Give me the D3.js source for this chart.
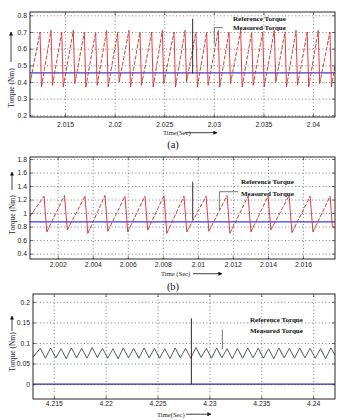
<!DOCTYPE html>
<html>
<head>
<meta charset="utf-8">
<script src="https://cdn.jsdelivr.net/npm/d3@7"></script>
<style>
body { margin: 0; background: #fff; }
svg { display: block; }
.tick text { font-family: "Liberation Sans", Arial, sans-serif; font-size: 6.8px; fill: #222; }
.tick line { stroke: #222; stroke-width: 0.6; }
.domain { display: none; }
.grid line { stroke: #444; stroke-width: 0.7; stroke-dasharray: 1, 2.4; }
.leg { font-family: "Liberation Serif", "Times New Roman", serif; font-size: 7px; font-weight: bold; fill: #111; }
.ylab { font-family: "Liberation Serif", "Times New Roman", serif; font-size: 7.5px; fill: #222; }
.xlab { font-family: "Liberation Serif", "Times New Roman", serif; font-size: 6.6px; fill: #222; }
.cap { font-family: "Liberation Serif", "Times New Roman", serif; font-size: 10.5px; fill: #111; }
</style>
</head>
<body>
<div id="chart"></div>
<script>
// ---- panel (a) ----
var aTime = [2.01147,
  2.01248, 2.01263, 2.01359, 2.01374, 2.01467, 2.01482, 2.01584, 2.01599, 2.01695, 2.01710,
  2.01809, 2.01824, 2.01920, 2.01935, 2.02031, 2.02046, 2.02145, 2.02160, 2.02256, 2.02271,
  2.02374, 2.02389, 2.02481, 2.02496, 2.02599, 2.02614, 2.02710, 2.02725, 2.02820, 2.02835,
  2.02928, 2.02943, 2.03045, 2.03060, 2.03153, 2.03168, 2.03271, 2.03286, 2.03382, 2.03397,
  2.03493, 2.03508, 2.03610, 2.03625, 2.03718, 2.03733, 2.03829, 2.03844, 2.03942, 2.03957,
  2.04053, 2.04068, 2.04171, 2.04186, 2.04222];
var aTorque = [0.39,
  0.70, 0.37, 0.71, 0.38, 0.70, 0.37, 0.71, 0.39, 0.70, 0.37,
  0.70, 0.38, 0.71, 0.37, 0.70, 0.40, 0.71, 0.37, 0.70, 0.38,
  0.70, 0.37, 0.71, 0.39, 0.70, 0.37, 0.71, 0.40, 0.70, 0.37,
  0.70, 0.38, 0.71, 0.37, 0.70, 0.39, 0.71, 0.37, 0.70, 0.38,
  0.70, 0.37, 0.71, 0.40, 0.70, 0.37, 0.71, 0.38, 0.70, 0.37,
  0.71, 0.39, 0.70, 0.37, 0.50];
var aReference = 0.455;
var aTicksX = [2.015, 2.02, 2.025, 2.03, 2.035, 2.04];
var aTicksY = [0.2, 0.3, 0.4, 0.5, 0.6, 0.7, 0.8];
var aDomainX = [2.01147, 2.04222];
var aDomainY = [0.19, 0.82];
// annotation lines: [time, torque from, torque to, (time end of elbow)]
var aRefMark = [2.02787, 0.78, 0.451];
var aMeasMark = [2.03005, 0.726, 0.63, 2.0309];

// ---- panel (b) ----
var bTime = [2.00042,
  2.00122, 2.00138, 2.00239, 2.00255, 2.00356, 2.00372, 2.00470, 2.00486, 2.00584, 2.00600,
  2.00698, 2.00714, 2.00807, 2.00823, 2.00921, 2.00937, 2.01047, 2.01063, 2.01167, 2.01183,
  2.01287, 2.01303, 2.01401, 2.01417, 2.01521, 2.01537, 2.01641, 2.01657, 2.01755, 2.01768,
  2.01783];
var bTorque = [0.95,
  1.25, 0.72, 1.26, 0.75, 1.25, 0.70, 1.26, 0.73, 1.25, 0.72,
  1.25, 0.75, 1.26, 0.70, 1.25, 0.72, 1.25, 0.73, 1.26, 0.70,
  1.25, 0.72, 1.25, 0.75, 1.26, 0.71, 1.25, 0.72, 1.25, 0.80,
  0.78];
var bReference = 0.87;
var bTicksX = [2.002, 2.004, 2.006, 2.008, 2.01, 2.012, 2.014, 2.016];
var bTicksY = [0.4, 0.6, 0.8, 1, 1.2, 1.4, 1.6, 1.8];
var bDomainX = [2.00042, 2.01783];
var bDomainY = [0.32, 1.83];
var bRefMark = [2.00971, 1.463, 0.9];
var bMeasMark = [2.01123, 1.316, 1.047, 2.0123];

// ---- panel (c) ----
var cTime = [4.2130,
  4.2137, 4.2142, 4.2147, 4.2152, 4.2157, 4.2162, 4.2167, 4.2172, 4.2177, 4.2182,
  4.2187, 4.2192, 4.2197, 4.2202, 4.2207, 4.2212, 4.2217, 4.2222, 4.2227, 4.2232,
  4.2237, 4.2242, 4.2247, 4.2252, 4.2257, 4.2262, 4.2267, 4.2272, 4.2277, 4.2282,
  4.2287, 4.2292, 4.2297, 4.2302, 4.2307, 4.2312, 4.2317, 4.2322, 4.2327, 4.2332,
  4.2337, 4.2342, 4.2347, 4.2352, 4.2357, 4.2362, 4.2367, 4.2372, 4.2377, 4.2382,
  4.2387, 4.2392, 4.2397, 4.2402, 4.2407, 4.2412, 4.2417,
  4.2421];
var cTorque = [0.066,
  0.087, 0.063, 0.088, 0.064, 0.086, 0.062, 0.088, 0.064, 0.087, 0.063,
  0.089, 0.065, 0.087, 0.063, 0.086, 0.062, 0.088, 0.064, 0.087, 0.063,
  0.088, 0.064, 0.087, 0.063, 0.086, 0.062, 0.088, 0.064, 0.087, 0.063,
  0.089, 0.065, 0.087, 0.063, 0.088, 0.064, 0.086, 0.062, 0.087, 0.063,
  0.088, 0.064, 0.087, 0.063, 0.086, 0.062, 0.088, 0.064, 0.087, 0.063,
  0.088, 0.064, 0.087, 0.063, 0.086, 0.062, 0.088,
  0.070];
var cReference = 0;
var cTicksX = [4.215, 4.22, 4.225, 4.23, 4.235, 4.24];
var cTicksY = [0, 0.05, 0.1, 0.15, 0.2];
var cDomainX = [4.2130, 4.2421];
var cDomainY = [-0.036, 0.219];
var cRefMark = [4.22826, 0.16, 0];
var cMeasMark = [4.23125, 0.132, 0.085];

var legendLabels = ["Reference Torque", "Measured Torque"];
var yTitle = "Torque (Nm)";
var xTitles = ["Time(Sec)", "Time (Sec)", "Time(Sec)"];
var captions = ["(a)", "(b)"];

var W = 339, H = 420;
var svg = d3.select("#chart").append("svg").attr("width", W).attr("height", H);

var defs = svg.append("defs");
defs.append("marker").attr("id", "arr")
    .attr("viewBox", "0 0 10 10").attr("refX", 9).attr("refY", 5)
    .attr("markerWidth", 5).attr("markerHeight", 5).attr("orient", "auto")
    .append("path").attr("d", "M0,0L10,5L0,10z").attr("fill", "#111");

var fmt = function(d) { return String(d); };

var panels = [
  { id: "a", box: [30, 335, 12, 117], dx: aDomainX, dy: aDomainY, tx: aTicksX, ty: aTicksY,
    time: aTime, val: aTorque, ref: aReference, refMark: aRefMark, measMark: aMeasMark,
    kind: "red", refColor: "#3b3be0", leg: [233, 19, 28], yl: [11, 88, 62, 32],
    pad: 5, xl: [163, 135, 185, 217], xt: xTitles[0] },
  { id: "b", box: [30, 335, 157, 259], dx: bDomainX, dy: bDomainY, tx: bTicksX, ty: bTicksY,
    time: bTime, val: bTorque, ref: bReference, refMark: bRefMark, measMark: bMeasMark,
    kind: "red", refColor: "#3b3be0", leg: [241, 182, 194], yl: [12, 215, 190, 172],
    pad: 3, xl: [161, 276, 193, 222], xt: xTitles[1] },
  { id: "c", box: [33, 335, 294, 399], dx: cDomainX, dy: cDomainY, tx: cTicksX, ty: cTicksY,
    time: cTime, val: cTorque, ref: cReference, refMark: cRefMark, measMark: cMeasMark,
    kind: "dark", refColor: "#2d2da8", leg: [250, 320, 331], yl: [12, 352, 331, 316],
    pad: 2.5, xl: [157, 416.5, 186, 211], xt: xTitles[2] }
];

panels.forEach(function(p) {
  var x0 = p.box[0], x1 = p.box[1], y0 = p.box[2], y1 = p.box[3];
  var x = d3.scaleLinear().domain(p.dx).range([x0, x1]);
  var y = d3.scaleLinear().domain(p.dy).range([y1, y0]);
  var g = svg.append("g");

  defs.append("clipPath").attr("id", "clip" + p.id)
      .append("rect").attr("x", x0).attr("y", y0).attr("width", x1 - x0).attr("height", y1 - y0);

  // dotted grid
  g.append("g").attr("class", "grid")
    .attr("transform", "translate(0," + y1 + ")")
    .call(d3.axisBottom(x).tickValues(p.tx).tickSize(-(y1 - y0)).tickFormat(""));
  g.append("g").attr("class", "grid")
    .attr("transform", "translate(" + x0 + ",0)")
    .call(d3.axisLeft(y).tickValues(p.ty).tickSize(-(x1 - x0)).tickFormat(""));

  // axes with inward ticks
  g.append("g").attr("transform", "translate(0," + y1 + ")")
    .call(d3.axisBottom(x).tickValues(p.tx).tickFormat(fmt)
      .tickSizeInner(-3).tickSizeOuter(0).tickPadding(p.pad));
  g.append("g").attr("transform", "translate(0," + y0 + ")")
    .call(d3.axisTop(x).tickValues(p.tx).tickSizeInner(-3).tickSizeOuter(0).tickFormat(""));
  g.append("g").attr("transform", "translate(" + x0 + ",0)")
    .call(d3.axisLeft(y).tickValues(p.ty).tickFormat(fmt)
      .tickSizeInner(-3).tickSizeOuter(0).tickPadding(3));
  g.append("g").attr("transform", "translate(" + x1 + ",0)")
    .call(d3.axisRight(y).tickValues(p.ty).tickSizeInner(-3).tickSizeOuter(0).tickFormat(""));

  var plot = g.append("g").attr("clip-path", "url(#clip" + p.id + ")");
  var line = d3.line().x(function(d) { return x(d[0]); }).y(function(d) { return y(d[1]); });
  var pts = p.time.map(function(t, i) { return [t, p.val[i]]; });

  // reference torque
  plot.append("path").datum([[p.dx[0], p.ref], [p.dx[1], p.ref]])
    .attr("d", line).attr("fill", "none").attr("stroke", p.refColor).attr("stroke-width", 1.3);

  if (p.kind === "red") {
    var segs = d3.pairs(pts);
    plot.selectAll("path.seg").data(segs).enter().append("path")
      .attr("class", "seg")
      .attr("d", line).attr("fill", "none")
      .attr("stroke", "#e3262b").attr("stroke-width", 0.9)
      .attr("stroke-dasharray", function(d) { return d[1][1] > d[0][1] ? "4,1.6" : null; });
    plot.selectAll("path.grn").data(segs.filter(function(d) { return d[1][1] > d[0][1]; }))
      .enter().append("path")
      .attr("class", "grn")
      .attr("d", line).attr("fill", "none")
      .attr("stroke", "#4caf3c").attr("stroke-width", 0.9)
      .attr("stroke-dasharray", "1.6,11").attr("stroke-dashoffset", -4);
  } else {
    plot.append("path").datum(pts).attr("d", line).attr("fill", "none")
      .attr("stroke", "#333").attr("stroke-width", 0.8);
    plot.append("path").datum(pts).attr("d", line).attr("fill", "none")
      .attr("stroke", "#2f9a35").attr("stroke-width", 0.9)
      .attr("stroke-dasharray", "4,40");
  }

  // frame
  g.append("rect").attr("x", x0).attr("y", y0).attr("width", x1 - x0).attr("height", y1 - y0)
    .attr("fill", "none").attr("stroke", "#111").attr("stroke-width", 0.9);

  // annotation leaders
  g.append("line")
    .attr("x1", x(p.refMark[0])).attr("x2", x(p.refMark[0]))
    .attr("y1", y(p.refMark[1])).attr("y2", y(p.refMark[2]))
    .attr("stroke", "#111").attr("stroke-width", 0.9);
  g.append("line")
    .attr("x1", x(p.measMark[0])).attr("x2", x(p.measMark[0]))
    .attr("y1", y(p.measMark[1])).attr("y2", y(p.measMark[2]))
    .attr("stroke", "#666").attr("stroke-width", 0.9);
  if (p.measMark.length > 3) {
    g.append("line")
      .attr("x1", x(p.measMark[0])).attr("x2", x(p.measMark[3]))
      .attr("y1", y(p.measMark[1])).attr("y2", y(p.measMark[1]))
      .attr("stroke", "#666").attr("stroke-width", 0.9);
  }

  // legend text
  g.append("text").attr("class", "leg").attr("x", p.leg[0]).attr("y", p.leg[1])
    .attr("dy", "0.35em").text(legendLabels[0]);
  g.append("text").attr("class", "leg").attr("x", p.leg[0]).attr("y", p.leg[2])
    .attr("dy", "0.35em").text(legendLabels[1]);

  // y title with arrow
  g.append("text").attr("class", "ylab")
    .attr("transform", "translate(" + (p.yl[0] + 2.5) + "," + p.yl[1] + ") rotate(-90)")
    .attr("text-anchor", "middle").text(yTitle);
  g.append("line").attr("x1", p.yl[0]).attr("x2", p.yl[0])
    .attr("y1", p.yl[2]).attr("y2", p.yl[3])
    .attr("stroke", "#111").attr("stroke-width", 0.8).attr("marker-end", "url(#arr)");

  // x title with arrow
  g.append("text").attr("class", "xlab").attr("x", p.xl[0]).attr("y", p.xl[1]).text(p.xt);
  g.append("line").attr("x1", p.xl[2]).attr("x2", p.xl[3])
    .attr("y1", p.xl[1] - 2.3).attr("y2", p.xl[1] - 2.3)
    .attr("stroke", "#111").attr("stroke-width", 0.8).attr("marker-end", "url(#arr)");
});

svg.append("text").attr("class", "cap").attr("x", 173).attr("y", 147.5)
  .attr("text-anchor", "middle").text(captions[0]);
svg.append("text").attr("class", "cap").attr("x", 173).attr("y", 289.5)
  .attr("text-anchor", "middle").text(captions[1]);
</script>
</body>
</html>
